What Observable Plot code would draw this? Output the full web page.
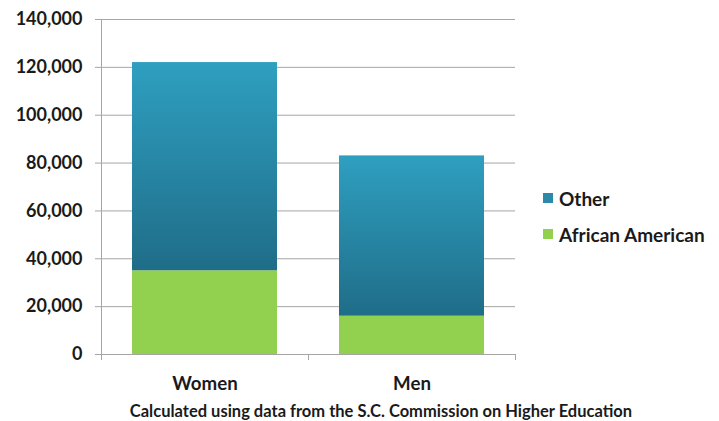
<!DOCTYPE html>
<html>
<head>
<meta charset="utf-8">
<script src="https://cdn.jsdelivr.net/npm/d3@7"></script>
<script src="https://cdn.jsdelivr.net/npm/@observablehq/plot@0.6"></script>
<style>
  html, body { margin: 0; padding: 0; background: #fff; }
  #wrap { position: relative; width: 719px; height: 421px; font-family: Lato, "Open Sans", sans-serif; color: #1a1a1a; overflow: hidden; }
  #legend { position: absolute; left: 543px; top: 186px; font-weight: 700; font-size: 19px; }
  #legend .row { display: flex; align-items: center; height: 24px; margin-bottom: 12px; }
  #legend .sw { width: 10px; height: 10px; margin-right: 6px; }
  #caption { position: absolute; left: 0; width: 762px; top: 403px; line-height: 17px; text-align: center; font-weight: 700; font-size: 16.5px; }
</style>
</head>
<body>
<div id="wrap">
  <div id="chart"></div>
  <div id="legend"></div>
  <div id="caption"></div>
</div>
<script>
const categories = ["Women", "Men"];
const seriesNames = ["African American", "Other"];
const africanAmerican = [35000, 16000];
const other = [87000, 67000];
const yTicks = [0, 20000, 40000, 60000, 80000, 100000, 120000, 140000];
const legendOrder = ["Other", "African American"];
const captionText = "Calculated using data from the S.C. Commission on Higher Education";

const green = "#92d050";
const otherSwatch = "#2b8aaa";

const rows = [];
categories.forEach((c, i) => rows.push({cat: c, group: seriesNames[0], value: africanAmerican[i]}));
categories.forEach((c, i) => rows.push({cat: c, group: seriesNames[1], value: other[i]}));

const W = 719, H = 400, mL = 101, mR = 204, mT = 19, mB = 46;
const step = (W - mL - mR) / categories.length;
const gridColor = "#a6a6a6";

const plot = Plot.plot({
  width: W, height: H,
  marginLeft: mL, marginRight: mR, marginTop: mT, marginBottom: mB,
  style: {fontFamily: "Lato, 'Open Sans', sans-serif", fontSize: "18px", fontWeight: 700, color: "#1a1a1a", background: "#fff", overflow: "visible"},
  x: {domain: categories, paddingInner: 0.3, paddingOuter: 0.15, label: null},
  y: {domain: [0, 140000], label: null},
  color: {domain: seriesNames, range: [green, "url(#otherGrad)"]},
  marks: [
    Plot.gridY(yTicks, {stroke: gridColor, strokeOpacity: 1, strokeWidth: 1}),
    Plot.barY(rows, Plot.stackY({x: "cat", y: "value", fill: "group"})),
    Plot.ruleY([0], {stroke: gridColor, strokeWidth: 1}),
    Plot.axisY({ticks: yTicks, tickFormat: d3.format(","), tickSize: 6, tickPadding: 13, stroke: gridColor, fontSize: 18, fontWeight: 700, fill: "#1a1a1a"}),
    Plot.ruleX(categories, {x: d => d, y1: 0, y2: 0, insetBottom: -6, dx: -step / 2, stroke: gridColor}),
    Plot.ruleX(categories.slice(-1), {x: d => d, y1: 0, y2: 0, insetBottom: -6, dx: step / 2, stroke: gridColor}),
    Plot.axisX({tickSize: 0, tickPadding: 22, fontSize: 18.7, fontWeight: 700, fill: "#1a1a1a"})
  ]
});

const svg = d3.select(plot);
const defs = svg.insert("defs", ":first-child");
const g = defs.append("linearGradient").attr("id", "otherGrad").attr("x1", 0).attr("y1", 0).attr("x2", 0).attr("y2", 1);
g.append("stop").attr("offset", "0%").attr("stop-color", "#2f9fc0");
g.append("stop").attr("offset", "100%").attr("stop-color", "#1f6d88");
svg.append("line").attr("x1", mL + 0.5).attr("x2", mL + 0.5).attr("y1", mT).attr("y2", H - mB).attr("stroke", gridColor);

document.getElementById("chart").appendChild(plot);

const legend = d3.select("#legend");
legendOrder.forEach(name => {
  const row = legend.append("div").attr("class", "row");
  row.append("div").attr("class", "sw").style("background", name === "Other" ? otherSwatch : green);
  row.append("span").text(name);
});
document.getElementById("caption").textContent = captionText;
</script>
</body>
</html>
